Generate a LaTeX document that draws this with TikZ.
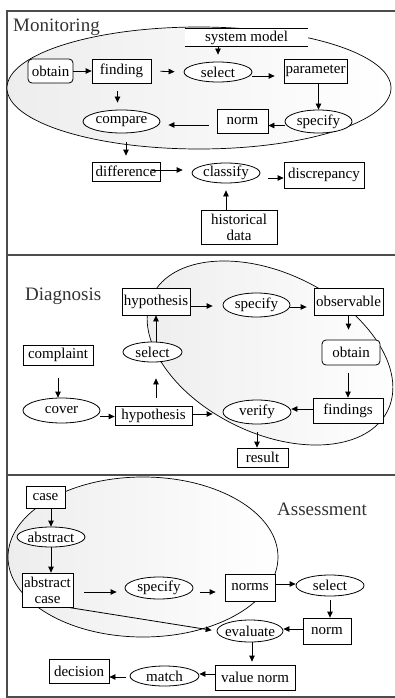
\documentclass[tikz,border=0pt]{standalone}
\usepackage{fontspec}
\setmainfont{Liberation Serif}
\usetikzlibrary{arrows.meta,shapes.geometric}

\tikzset{
  lbl/.style={font=\fontsize{15}{16}\selectfont, text=black, inner sep=0pt},
  sz/.style 2 args={minimum width=#1pt, minimum height=#2pt},
  rbox/.style={lbl, draw, fill=white, line width=0.8pt},
  oval/.style={lbl, draw, fill=white, ellipse, inner sep=-3pt, line width=0.8pt},
  store/.style={lbl, fill=white},
  title/.style={font=\fontsize{19}{20}\selectfont, text=black!80, inner sep=0pt},
  frame/.style={draw=black!70, line width=1.3pt},
  region/.style={draw, line width=0.7pt, left color=black!7, right color=white},
  arr/.style={-{Triangle[length=6pt,width=5.5pt]}, line width=0.8pt}
}

\begin{document}
\begin{tikzpicture}[x=1pt,y=-1pt]
\useasboundingbox (0,0) rectangle (394,698);

% panel frame and separators
\draw[frame] (396,11) -- (7,11) -- (7,697) -- (396,697);
\draw[frame] (7,255) -- (396,255);
\draw[frame] (7,475) -- (396,475);

% shaded regions
\path[region] (199,88) ellipse [x radius=192pt, y radius=61pt];
\path[region, rotate around={-26:(270,353)}] (270,353) ellipse [x radius=131pt, y radius=80pt];
\path[region] (143,557) ellipse [x radius=135pt, y radius=80pt];

% ---------------- Monitoring ----------------
\node[title, anchor=base west] (tmon) at (13,32) {Monitoring};
\node[store, sz={123}{17}] (m_model) at (246.5,37.5) {system model};
\draw[line width=0.8pt] (m_model.north west) -- (m_model.north east)
                        (m_model.south west) -- (m_model.south east);
\node[rbox, rounded corners=4pt, sz={45}{24}] (m_obtain) at (50.5,71) {obtain};
\node[rbox, sz={59}{24}] (m_finding) at (121.5,71) {finding};
\node[oval, sz={68}{20}] (m_select) at (218,72) {select};
\node[rbox, sz={63}{24}] (m_param) at (315.5,71) {parameter};
\node[oval, sz={67}{23}] (m_specify) at (318.5,121.5) {specify};
\node[rbox, sz={51}{24}] (m_norm) at (242.5,121) {norm};
\node[oval, sz={77}{23}] (m_compare) at (121.5,121.5) {compare};
\node[rbox, sz={68}{19}] (m_diff) at (126,171.5) {difference};
\node[oval, sz={68}{20}] (m_classify) at (226,173) {classify};
\node[rbox, sz={80}{26}] (m_discr) at (324,175) {discrepancy};
\node[rbox, sz={76}{34}, align=center] (m_hist) at (239,227) {historical\\data};

\draw[arr] (m_obtain.east) -- (m_finding.west);
\draw[arr, shorten <=9pt, shorten >=9pt] (m_finding.east) -- (m_select.west);
\draw[arr, shorten >=9pt] ([yshift=-4pt]m_select.east) -- ([yshift=-4pt]m_select.east -| m_param.west);
\draw[arr] (m_param.south -| m_specify.north) -- (m_specify.north);
\draw[arr, shorten >=7pt] (m_model.south -| m_select.north) -- (m_select.north);
\draw[arr] ([yshift=-4pt]m_specify.west) -- ([yshift=-4pt]m_specify.west -| m_norm.east);
\draw[arr, shorten <=8pt, shorten >=8pt] ([yshift=-4pt]m_norm.west) -- ([yshift=-4pt]m_norm.west -| m_compare.east);
\draw[arr, shorten <=8pt, shorten >=7pt] ([xshift=-4pt]m_finding.south) -- ([xshift=-4pt]m_finding.south |- m_compare.north);
\draw[arr, shorten <=9pt, shorten >=6pt] (m_compare.south -| m_diff.north) -- (m_diff.north);
\draw[arr, shorten <=-8pt, shorten >=9pt] ([yshift=1.5pt]m_diff.east) -- ([yshift=1.5pt]m_diff.east -| m_classify.west);
\draw[arr, shorten <=8pt] ([yshift=-5pt]m_classify.east) -- ([yshift=-5pt]m_classify.east -| m_discr.west);
\draw[arr, shorten >=7pt] (m_hist.north -| m_classify.south) -- (m_classify.south);

% ---------------- Diagnosis ----------------
\node[title, anchor=base west] (tdia) at (25,300) {Diagnosis};
\node[rbox, sz={68}{27}] (d_hyp1) at (156,301.5) {hypothesis};
\node[oval, sz={67}{24}] (d_specify) at (256.5,305) {specify};
\node[rbox, sz={69}{27}] (d_observ) at (348.5,301.5) {observable};
\node[rbox, rounded corners=4pt, sz={58}{25}] (d_obtain) at (351,352.5) {obtain};
\node[rbox, sz={70}{25}] (d_findings) at (348,410.5) {findings};
\node[oval, sz={68}{24}] (d_verify) at (257,412) {verify};
\node[rbox, sz={51}{19}] (d_result) at (262.5,457.5) {result};
\node[oval, sz={59}{20}] (d_select) at (152.5,352) {select};
\node[rbox, sz={70}{20}] (d_complaint) at (58,355) {complaint};
\node[oval, sz={77}{25}] (d_cover) at (61.5,410.5) {cover};
\node[rbox, sz={77}{19}] (d_hyp2) at (153.5,415.5) {hypothesis};

\draw[arr, shorten >=10pt] ([yshift=-4.5pt]d_hyp1.east) -- ([yshift=-4.5pt]d_hyp1.east -| d_specify.west);
\draw[arr, shorten >=7pt] ([yshift=-2pt]d_specify.east) -- ([yshift=-2pt]d_specify.east -| d_observ.west);
\draw[arr, shorten >=10pt] (d_observ.south) -- (d_observ.south |- d_obtain.north);
\draw[arr, shorten <=8pt] (d_obtain.south -| d_findings.north) -- (d_findings.north);
\draw[arr] ([yshift=1.5pt]d_findings.west) -- ([yshift=1.5pt]d_findings.west -| d_verify.east);
\draw[arr, shorten <=8pt] (d_verify.south) -- (d_verify.south |- d_result.north);
\draw[arr] (d_select.north -| d_hyp1.south) -- (d_hyp1.south);
\draw[arr, shorten <=8pt, shorten >=16pt] (d_hyp2.north -| d_hyp1.south) -- (d_select.south -| d_hyp1.south);
\draw[arr, shorten <=13pt] (d_complaint.south) -- (d_complaint.south |- d_cover.north);
\draw[arr] ([yshift=-6pt]d_cover.east) -- ([yshift=-6pt]d_cover.east -| d_hyp2.west);
\draw[arr, shorten >=10pt] ([yshift=1.5pt]d_hyp2.east) -- ([yshift=1.5pt]d_hyp2.east -| d_verify.west);

% ---------------- Assessment ----------------
\node[title, anchor=base west] (tass) at (277,515) {Assessment};
\node[rbox, sz={39}{22}] (a_case) at (45.5,497) {case};
\node[oval, sz={68}{20}] (a_abstract) at (51,537) {abstract};
\node[rbox, sz={51}{34}, align=center] (a_abscase) at (47.5,590) {abstract\\case};
\node[oval, sz={68}{22}] (a_specify) at (159,588) {specify};
\node[rbox, sz={50}{27}] (a_norms) at (250,587.5) {norms};
\node[oval, sz={68}{21}] (a_select) at (330,585.5) {select};
\node[rbox, sz={48}{26}] (a_norm) at (327,631) {norm};
\node[oval, sz={66}{22}] (a_eval) at (250,631) {evaluate};
\node[rbox, sz={80}{25}] (a_value) at (255,677.5) {value norm};
\node[oval, sz={69}{20}] (a_match) at (164.5,676) {match};
\node[rbox, sz={60}{24}] (a_decision) at (79,671) {decision};

\draw[arr] (a_case.south -| a_abstract.north) -- (a_abstract.north);
\draw[arr] (a_abstract.south) -- (a_abstract.south |- a_abscase.north);
\draw[arr, shorten <=11pt, shorten >=8pt] ([yshift=-2pt]a_abscase.east) -- ([yshift=-2pt]a_abscase.east -| a_specify.west);
\draw[arr, shorten <=7pt, shorten >=9pt] ([yshift=-4pt]a_specify.east) -- ([yshift=-4pt]a_specify.east -| a_norms.west);
\draw[arr] ([yshift=3.5pt]a_norms.east) -- ([yshift=3.5pt]a_norms.east -| a_select.west);
\draw[arr, shorten <=4pt] (a_select.south) -- (a_select.south |- a_norm.north);
\draw[arr] ([yshift=2pt]a_norm.west) -- ([yshift=2pt]a_norm.west -| a_eval.east);
\draw[arr, shorten >=5pt] ([xshift=-5pt]a_abscase.south east) -- (a_eval.west);
\draw[arr, shorten >=3pt] ([xshift=2pt]a_eval.south) -- ([xshift=2pt]a_eval.south |- a_value.north);
\draw[arr] ([yshift=3.5pt]a_value.west) -- ([yshift=3.5pt]a_value.west -| a_match.east);
\draw[arr, shorten <=4pt] ([yshift=-1pt]a_match.west) -- ([yshift=-1pt]a_match.west -| a_decision.east);
\end{tikzpicture}
\end{document}
